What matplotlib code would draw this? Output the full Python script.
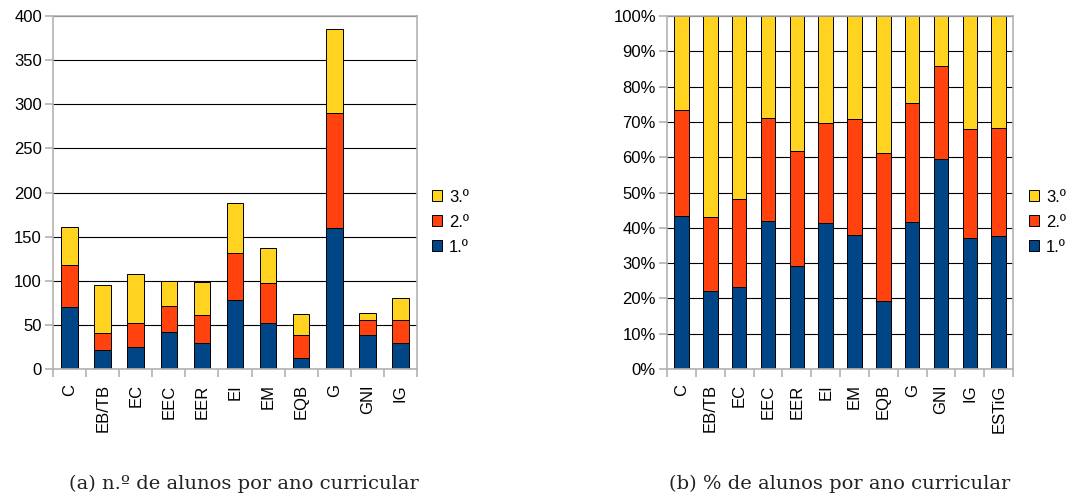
import numpy as np
import matplotlib.pyplot as plt
from matplotlib.patches import Patch

plt.rcParams['font.family'] = ['Liberation Sans', 'DejaVu Sans']

# Number of students per course and curricular year
cursos = ['C', 'EB/TB', 'EC', 'EEC', 'EER', 'EI', 'EM', 'EQB', 'G', 'GNI', 'IG']
ano1 = [70, 21, 25, 42, 29, 78, 52, 12, 160, 38, 30]
ano2 = [48, 20, 27, 29, 32, 53, 45, 26, 130, 17, 25]
ano3 = [43, 54, 56, 29, 38, 57, 40, 24, 95, 9, 26]
total_label = 'ESTiG'

legend_labels = ['3.º', '2.º', '1.º']
cores = ['#004586', '#ff420e', '#ffd320']
grid_col = '#000000'
frame_col = '#b3b3b3'


def style_axes(ax, n, ymax, ystep):
    ax.set_xlim(-0.5, n - 0.5)
    ax.set_ylim(0, ymax)
    ax.set_yticks(np.arange(0, ymax + ystep / 2, ystep))
    ax.yaxis.grid(True, color=grid_col, linewidth=0.8)
    ax.set_axisbelow(True)
    for s in ax.spines.values():
        s.set_color(frame_col)
        s.set_linewidth(1.2)
    ax.set_xticks(np.arange(n))
    ax.set_xticks(np.arange(n + 1) - 0.5, minor=True)
    ax.tick_params(axis='x', which='major', length=0, labelsize=12, pad=11)
    ax.tick_params(axis='x', which='minor', length=6, color=frame_col, width=1.2)
    ax.tick_params(axis='y', length=6, color=frame_col, width=1.2, labelsize=12, pad=2)


def draw_stack(ax, labels, series, width=0.5):
    x = np.arange(len(labels))
    bottom = np.zeros(len(labels))
    for vals, c in zip(series, cores):
        vals = np.asarray(vals, dtype=float)
        ax.bar(x, vals, width, bottom=bottom, color=c, edgecolor='black', linewidth=0.7)
        bottom += vals
    ax.set_xticklabels(labels, rotation=90, va='top')


fig = plt.figure(figsize=(10.69, 4.95), dpi=100)

# (a) counts
ax1 = fig.add_axes([0.0496, 0.2545, 0.3405, 0.7132])
draw_stack(ax1, cursos, [ano1, ano2, ano3])
style_axes(ax1, len(cursos), 400, 50)

# (b) percentages, with the school total
a1 = np.array(ano1 + [sum(ano1)], dtype=float)
a2 = np.array(ano2 + [sum(ano2)], dtype=float)
a3 = np.array(ano3 + [sum(ano3)], dtype=float)
tot = a1 + a2 + a3
cursos_b = cursos + [total_label]
ax2 = fig.add_axes([0.624, 0.2545, 0.3237, 0.7132])
draw_stack(ax2, cursos_b, [a1 / tot * 100, a2 / tot * 100, a3 / tot * 100])
style_axes(ax2, len(cursos_b), 100, 10)
ax2.set_yticklabels([f'{v}%' for v in range(0, 101, 10)])

handles = [Patch(facecolor=c, edgecolor='black', linewidth=0.7) for c in cores[::-1]]
for ax, xpos in [(ax1, 1.04), (ax2, 1.045)]:
    ax.legend(handles, legend_labels, loc='center left', bbox_to_anchor=(xpos, 0.416),
              frameon=False, fontsize=12, handlelength=0.6, handleheight=0.6,
              handletextpad=0.45, labelspacing=0.6, borderpad=0, borderaxespad=0)

fig.text(244 / 1069, 1 - 484 / 495, '(a) n.º de alunos por ano curricular',
         family='DejaVu Serif', fontsize=14, ha='center', va='center', color='#222222')
fig.text(840 / 1069, 1 - 484 / 495, '(b) % de alunos por ano curricular',
         family='DejaVu Serif', fontsize=14, ha='center', va='center', color='#222222')

fig.savefig('out.png', dpi=100)
